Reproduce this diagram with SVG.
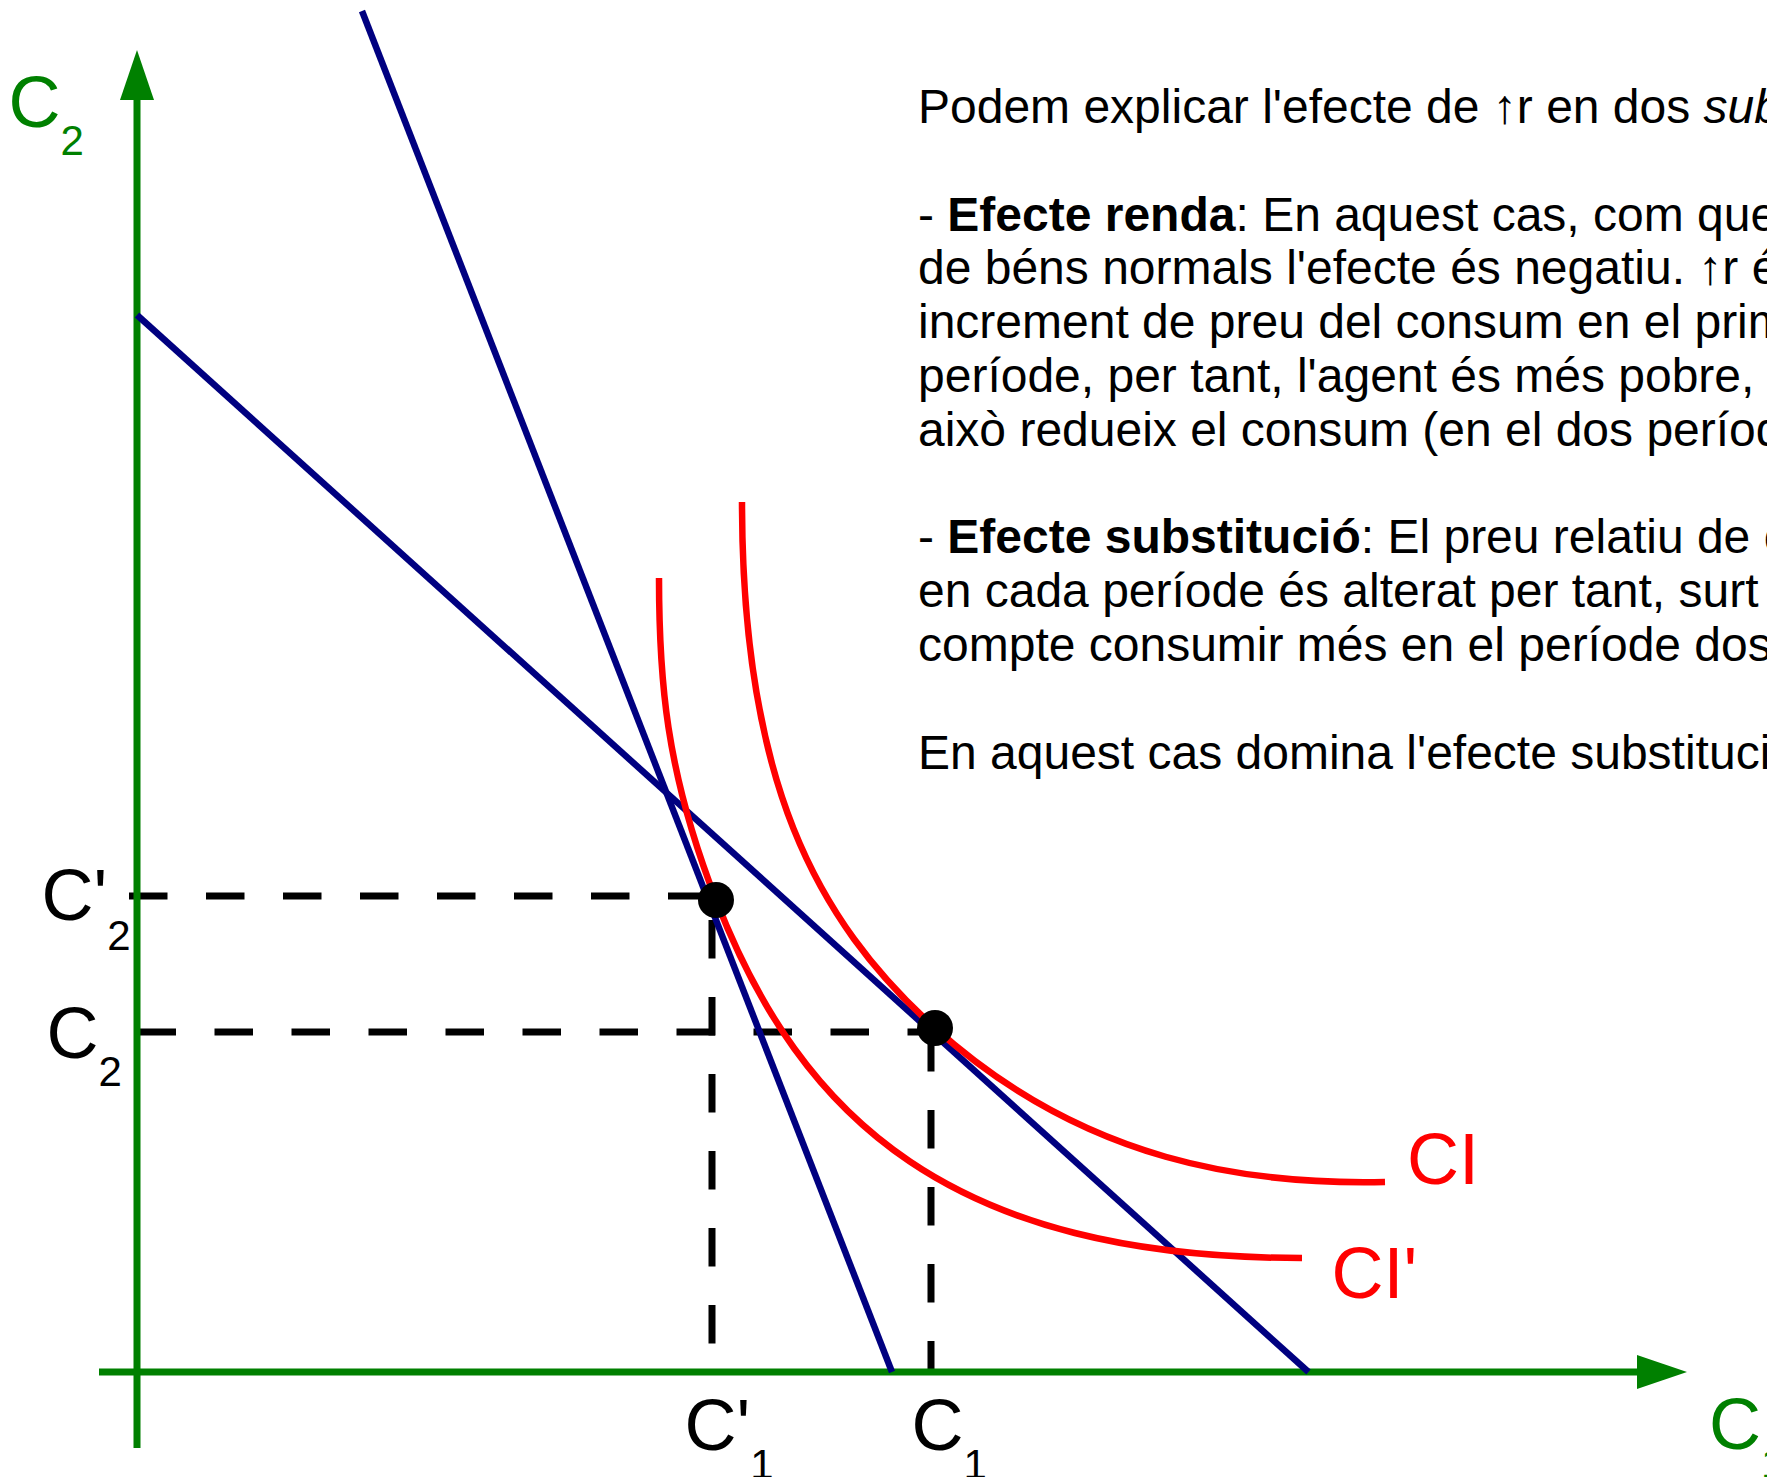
<svg xmlns="http://www.w3.org/2000/svg" width="1767" height="1477" viewBox="0 0 1767 1477">
<style>
text{font-family:"Liberation Sans",Arial,sans-serif}
.lbl{font-size:72px}
.sub{font-size:42px}
.g{fill:#008000}
.k{fill:#000000}
.r{fill:#ff0000}
.axis{stroke:#008000;stroke-width:7;fill:none}
.budget{stroke:#000080;stroke-width:6.5;fill:none}
.ic{stroke:#ff0000;stroke-width:6.5;fill:none}
.dash{stroke:#000000;stroke-width:7;fill:none;stroke-dasharray:38.5 38.5}
.body{font-size:48px;fill:#000000}
</style>
<defs>
<marker id="arrow" markerUnits="userSpaceOnUse" markerWidth="50" markerHeight="34" refX="0" refY="17" orient="auto" viewBox="0 0 50 34">
<path d="M0,0 L50,17 L0,34 Z" fill="#008000"/>
</marker>
</defs>
<rect width="1767" height="1477" fill="#ffffff"/>
<g id="connectors">
<g id="guides">
<line class="dash" x1="129" y1="896" x2="712" y2="896"/>
<line class="dash" x1="137.5" y1="1032" x2="935" y2="1032"/>
<line class="dash" x1="712" y1="920" x2="712" y2="1372"/>
<line class="dash" x1="931" y1="1033" x2="931" y2="1372"/>
</g>
<g id="axes">
<line class="axis" x1="137" y1="1448" x2="137" y2="100" marker-end="url(#arrow)"/>
<line class="axis" x1="99" y1="1372" x2="1637" y2="1372" marker-end="url(#arrow)"/>
</g>
<g id="budget-lines">
<line class="budget" x1="362" y1="11" x2="892" y2="1372"/>
<line class="budget" x1="137" y1="315" x2="1308.5" y2="1372"/>
</g>
<g id="indifference-curves">
<path id="curve-CI" class="ic" d="M742,502 C742,780 815,919.7 935,1028 C1085,1163 1250,1185 1385,1182"/>
<path id="curve-CIp" class="ic" d="M659,578 C659,678 665.4,770 716,900 C801.6,1120 952,1258 1302,1258"/>
</g>
</g>
<g id="point-A"><circle cx="716" cy="900" r="18" fill="#000000"/></g>
<g id="point-B"><circle cx="935" cy="1028" r="18" fill="#000000"/></g>
<g id="label-axis-C2"><text class="lbl g" x="8.5" y="127">C<tspan class="sub" dy="28">2</tspan></text></g>
<g id="label-axis-C1"><text class="lbl g" x="1709" y="1449">C<tspan class="sub" dy="29">1</tspan></text></g>
<g id="label-C2p"><text class="lbl k" x="41.5" y="920">C'<tspan class="sub" dy="30">2</tspan></text></g>
<g id="label-C2"><text class="lbl k" x="46.5" y="1058">C<tspan class="sub" dy="28">2</tspan></text></g>
<g id="label-C1p"><text class="lbl k" x="684.5" y="1450">C'<tspan class="sub" dy="29">1</tspan></text></g>
<g id="label-C1"><text class="lbl k" x="911.5" y="1450">C<tspan class="sub" dy="29">1</tspan></text></g>
<g id="label-CI"><text class="lbl r" x="1407" y="1184">CI</text></g>
<g id="label-CIp"><text class="lbl r" x="1331.5" y="1298">CI'</text></g>
<g id="explanation">
<text class="body" x="918" y="123">Podem explicar l'efecte de ↑r en dos <tspan font-style="italic">sub</tspan></text>
<text class="body" x="918" y="230.6">- <tspan font-weight="bold">Efecte renda</tspan>: En aquest cas, com que</text>
<text class="body" x="918" y="284.4">de béns normals l'efecte és negatiu. ↑r é</text>
<text class="body" x="918" y="338.2">increment de preu del consum en el prim</text>
<text class="body" x="918" y="392">període, per tant, l'agent és més pobre, i</text>
<text class="body" x="918" y="445.8">això redueix el consum (en el dos períod</text>
<text class="body" x="918" y="553.4">- <tspan font-weight="bold">Efecte substitució</tspan>: El preu relatiu de c</text>
<text class="body" x="918" y="607.2">en cada període és alterat per tant, surt</text>
<text class="body" x="918" y="661">compte consumir més en el període dos</text>
<text class="body" x="918" y="768.6">En aquest cas domina l'efecte substituci</text>
</g>
</svg>
